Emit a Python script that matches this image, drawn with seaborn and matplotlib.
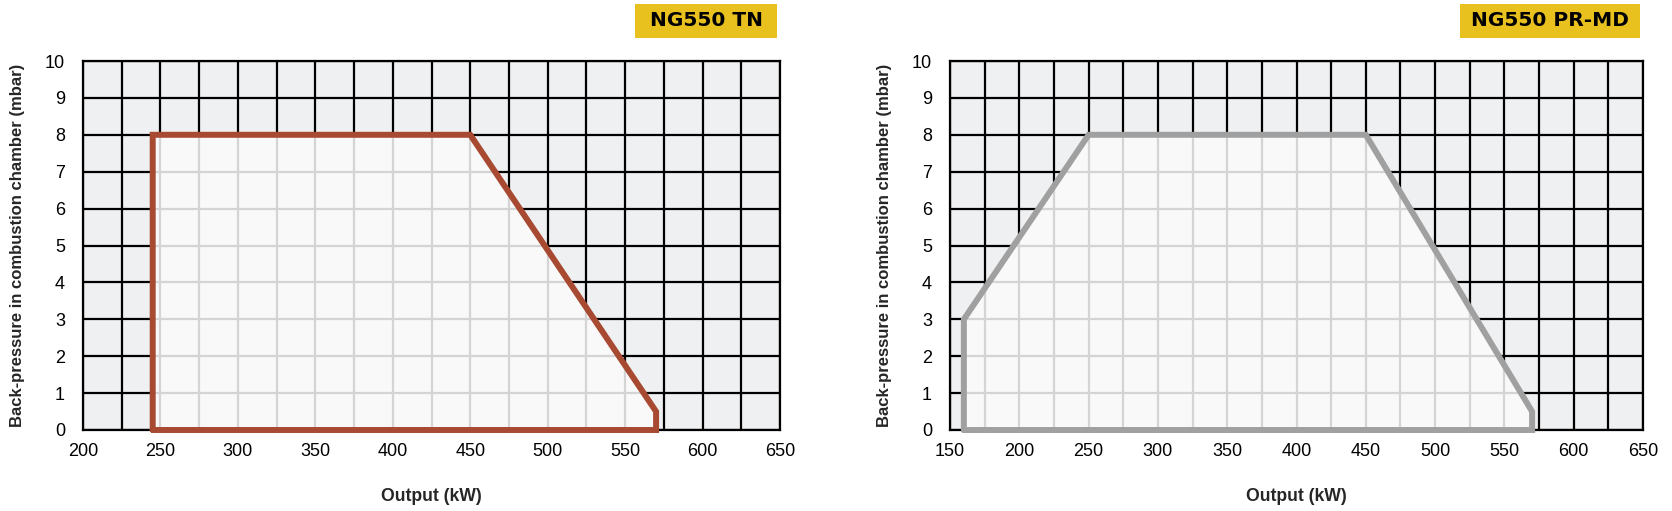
import numpy as np
import pandas as pd
import matplotlib
matplotlib.use('Agg')
import matplotlib.pyplot as plt
from matplotlib.patches import Polygon, Rectangle
import seaborn as sns

# Working field envelopes (output kW vs back-pressure mbar)
tn_output = [245, 245, 450, 570, 570, 245]
tn_pressure = [0, 8, 8, 0.5, 0, 0]

prmd_output = [160, 160, 250, 450, 570, 570, 160]
prmd_pressure = [0, 3, 8, 8, 0.5, 0, 0]

tn_xticks = [200, 250, 300, 350, 400, 450, 500, 550, 600, 650]
prmd_xticks = [150, 200, 250, 300, 350, 400, 450, 500, 550, 600, 650]
yticks = list(range(0, 11))

sns.set_style('white')
plt.rcParams['font.family'] = ['Liberation Sans', 'DejaVu Sans']

W, H = 1672, 511
BG_OUT = '#eef0f2'
BG_IN = '#f9f9f9'
GRID_IN = '#d4d4d4'
YELLOW = '#e8c11f'


def draw_panel(fig, ax, xs, ys, xticks, color, title, box_w):
    xmin, xmax = xticks[0], xticks[-1]
    ax.set_facecolor(BG_OUT)
    gx = np.arange(xmin, xmax + 1, 25)
    gy = np.arange(0, 11, 1)

    # dark grid outside the envelope
    ax.vlines(gx, 0, 10, color='black', lw=1.6, zorder=0.5)
    ax.hlines(gy, xmin, xmax, color='black', lw=1.6, zorder=0.5)

    # envelope fill and light grid inside it
    patch = Polygon(np.column_stack([xs, ys]), closed=True,
                    facecolor=BG_IN, edgecolor='none', zorder=1)
    ax.add_patch(patch)
    vl = ax.vlines(gx, 0, 10, color=GRID_IN, lw=1.6, zorder=1.5)
    hl = ax.hlines(gy, xmin, xmax, color=GRID_IN, lw=1.6, zorder=1.5)
    vl.set_clip_path(patch)
    hl.set_clip_path(patch)

    df = pd.DataFrame({'x': xs, 'y': ys})
    sns.lineplot(data=df, x='x', y='y', sort=False, estimator=None,
                 color=color, lw=4.3, ax=ax, zorder=3)
    ax.lines[-1].set_solid_joinstyle('miter')
    ax.lines[-1].set_clip_on(False)

    ax.set_xlim(xmin, xmax)
    ax.set_ylim(0, 10)
    ax.set_xticks(xticks)
    ax.set_yticks(yticks)
    ax.tick_params(axis='both', labelsize=13, colors='black', direction='out')
    ax.tick_params(axis='y', length=7, width=1.5, pad=6)
    ax.tick_params(axis='x', length=3.6, width=1.3, pad=6)
    for s in ax.spines.values():
        s.set_color('black')
        s.set_linewidth(1.6)
        s.set_zorder(0.6)

    ax.set_xlabel('Output (kW)', fontsize=12.7, fontweight='bold', labelpad=20)
    ax.set_ylabel('Back-pressure in combustion chamber (mbar)', fontsize=12,
                  fontweight='bold', labelpad=14)

    # yellow model tag above the top-right corner
    pos = ax.get_position()
    right = pos.x1 - 3 / W
    top = 1 - 4 / H
    bh = 34 / H
    bw = box_w / W
    fig.patches.append(Rectangle((right - bw, top - bh), bw, bh,
                                 transform=fig.transFigure,
                                 facecolor=YELLOW, edgecolor='none'))
    fig.text(right - bw / 2, top - bh / 2, title, ha='center', va='center',
             fontsize=14.5, fontweight='bold', color='black',
             family='DejaVu Sans')


fig = plt.figure(figsize=(W / 100, H / 100), dpi=100)
ax1 = fig.add_axes([83 / W, 1 - 430 / H, 697 / W, 369 / H])
ax2 = fig.add_axes([950 / W, 1 - 430 / H, 693 / W, 369 / H])

draw_panel(fig, ax1, tn_output, tn_pressure, tn_xticks, '#a84a32', 'NG550 TN', 142)
draw_panel(fig, ax2, prmd_output, prmd_pressure, prmd_xticks, '#a0a0a0',
           'NG550 PR-MD', 180)

fig.savefig('out.png', dpi=100)
